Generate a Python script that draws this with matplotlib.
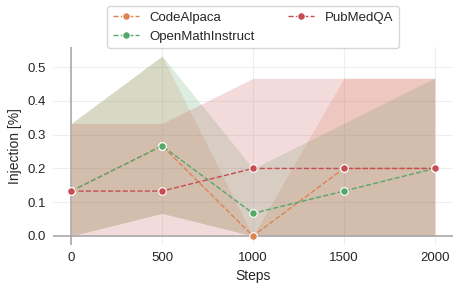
import numpy as np
import matplotlib.pyplot as plt
import seaborn as sns

sns.set_style("whitegrid")
plt.rcParams['font.family'] = ['Liberation Sans', 'DejaVu Sans']

steps = [0, 500, 1000, 1500, 2000]

code_mean = [0.133, 0.267, 0.0, 0.2, 0.2]
code_low = [0.0, 0.067, 0.0, 0.0, 0.0]
code_high = [0.333, 0.533, 0.0, 0.467, 0.467]

math_mean = [0.133, 0.267, 0.067, 0.133, 0.2]
math_low = [0.0, 0.067, 0.0, 0.0, 0.0]
math_high = [0.333, 0.533, 0.2, 0.333, 0.467]

pub_mean = [0.133, 0.133, 0.2, 0.2, 0.2]
pub_low = [0.0, 0.0, 0.0, 0.0, 0.0]
pub_high = [0.333, 0.333, 0.467, 0.467, 0.467]

series = [
    ("CodeAlpaca", "#dd8452", code_mean, code_low, code_high),
    ("OpenMathInstruct", "#55a868", math_mean, math_low, math_high),
    ("PubMedQA", "#c44e52", pub_mean, pub_low, pub_high),
]

fig = plt.figure(figsize=(4.57, 2.92), dpi=100)
ax = fig.add_axes([0.116, 0.161, 0.875, 0.678])

for name, col, m, lo, hi in series:
    ax.fill_between(steps, lo, hi, color=col, alpha=0.2, linewidth=0)
    ax.plot(steps, m, ls="--", lw=1.0, color=col, marker="o", markersize=5.5,
            markeredgecolor="white", markeredgewidth=0.8, label=name, zorder=3)

ax.axhline(0, color="#aaaaaa", lw=1.2, zorder=2)
ax.axvline(0, color="#aaaaaa", lw=1.2, zorder=2)

for s in ax.spines.values():
    s.set_visible(False)
ax.grid(True, color="#eeeeee", lw=0.8)

ax.set_xticks(steps)
ax.set_yticks([0.0, 0.1, 0.2, 0.3, 0.4, 0.5])
ax.tick_params(labelsize=9.5, colors="#262626", length=0, pad=5)
ax.set_xlabel("Steps", fontsize=10, color="#262626")
ax.set_ylabel("Injection [%]", fontsize=10, color="#262626")

ax.legend(loc="lower center", bbox_to_anchor=(0.5, 0.995), ncol=2, fontsize=9.5,
          frameon=True, columnspacing=2.5, handlelength=2.0,
          borderaxespad=0)

fig.savefig("out.png", dpi=100)
